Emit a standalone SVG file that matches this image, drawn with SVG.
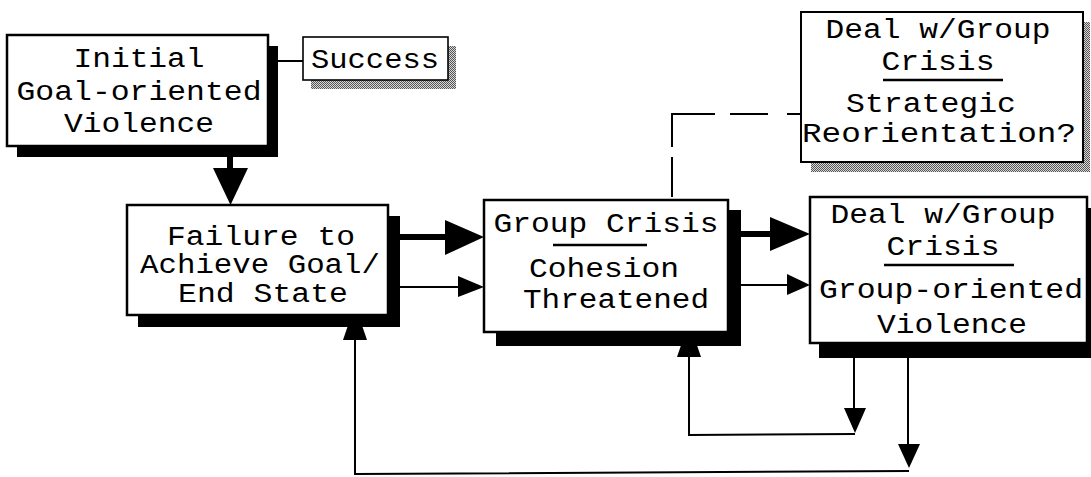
<svg xmlns="http://www.w3.org/2000/svg" width="1091" height="477" viewBox="0 0 1091 477">
<defs>
<pattern id="dots" width="2" height="2" patternUnits="userSpaceOnUse">
<rect width="2" height="2" fill="#d8d8d8"/>
<rect width="1" height="1" fill="#555"/>
<rect x="1" y="1" width="1" height="1" fill="#555"/>
</pattern>
</defs>
<style>
.box{fill:#fff;stroke:#000;stroke-width:2.5}
.sbox{fill:#fff;stroke:#000;stroke-width:1.6}
.sh{fill:#000}
.gsh{fill:url(#dots)}
.t{font-family:"Liberation Mono","Courier New",monospace;font-size:27px;fill:#000;text-anchor:middle}
.ul{stroke:#000;stroke-width:2.5}
.ln{stroke:#000;stroke-width:2;fill:none}
.thick{stroke:#000;stroke-width:6;fill:none}
.ah{fill:#000}
.dash{stroke:#000;stroke-width:2;fill:none;stroke-dasharray:13 19 38 15 76 10 40}
</style>
<rect width="1091" height="477" fill="#fff"/>
<g id="connectors">
<line class="ln" x1="270" y1="61" x2="303" y2="61"/>
<line class="thick" x1="230" y1="150" x2="230" y2="172"/>
<polygon class="ah" points="213,168 248,168 230.5,205"/>
<line class="thick" x1="395" y1="237" x2="448" y2="237"/>
<polygon class="ah" points="445,220 445,255 484,237"/>
<line class="ln" x1="395" y1="287" x2="460" y2="287"/>
<polygon class="ah" points="458,276 458,297 484,287"/>
<line class="thick" x1="735" y1="234" x2="772" y2="234"/>
<polygon class="ah" points="770,217 770,251 810,234"/>
<line class="ln" x1="735" y1="285" x2="789" y2="285"/>
<polygon class="ah" points="787,274 787,295 810,285"/>
<polyline class="ln" points="854,350 854,410"/>
<polygon class="ah" points="844,408 866,408 855,433"/>
<polyline class="ln" points="855,434 689,435 689,350"/>
<polygon class="ah" points="677,357 701,357 689,322"/>
<polyline class="ln" points="908,350 908,446"/>
<polygon class="ah" points="898,444 920,444 909,468"/>
<polyline class="ln" points="909,471 355,474 355,335"/>
<polygon class="ah" points="343,340 367,340 355,305"/>
<path class="dash" d="M800,114 H672 V199"/>
</g>
<g id="n1">
<rect class="sh" x="17" y="46" width="261" height="111"/>
<rect class="box" x="7" y="35" width="261" height="111"/>
<text class="t" x="139" y="67" textLength="131" lengthAdjust="spacingAndGlyphs">Initial</text>
<text class="t" x="139" y="100" textLength="245" lengthAdjust="spacingAndGlyphs">Goal-oriented</text>
<text class="t" x="139" y="132" textLength="150" lengthAdjust="spacingAndGlyphs">Violence</text>
</g>
<g id="success">
<rect class="gsh" x="311" y="46" width="145" height="43"/>
<rect class="sbox" x="303" y="37" width="145" height="43"/>
<text class="t" x="375" y="68" textLength="128" lengthAdjust="spacingAndGlyphs">Success</text>
</g>
<g id="n2">
<rect class="sh" x="138" y="216" width="262" height="111"/>
<rect class="box" x="127" y="205" width="261" height="110"/>
<text class="t" x="261" y="245" textLength="188" lengthAdjust="spacingAndGlyphs">Failure to</text>
<text class="t" x="260" y="273" textLength="240" lengthAdjust="spacingAndGlyphs">Achieve Goal/</text>
<text class="t" x="263" y="302" textLength="170" lengthAdjust="spacingAndGlyphs">End State</text>
</g>
<g id="n3">
<rect class="sh" x="496" y="210" width="245" height="136"/>
<rect class="box" x="484" y="200" width="244" height="132"/>
<text class="t" x="606" y="232" textLength="225" lengthAdjust="spacingAndGlyphs">Group Crisis</text>
<line class="ul" x1="553" y1="245" x2="647" y2="245"/>
<text class="t" x="604" y="277" textLength="150" lengthAdjust="spacingAndGlyphs">Cohesion</text>
<text class="t" x="616" y="308" textLength="186" lengthAdjust="spacingAndGlyphs">Threatened</text>
</g>
<g id="n4">
<rect class="sh" x="819" y="208" width="280" height="150"/>
<rect class="box" x="810" y="197" width="277" height="146"/>
<text class="t" x="943" y="223" textLength="225" lengthAdjust="spacingAndGlyphs">Deal w/Group</text>
<text class="t" x="943" y="255" textLength="113" lengthAdjust="spacingAndGlyphs">Crisis</text>
<line class="ul" x1="884" y1="265" x2="1014" y2="265"/>
<text class="t" x="951" y="298" textLength="264" lengthAdjust="spacingAndGlyphs">Group-oriented</text>
<text class="t" x="952" y="333" textLength="150" lengthAdjust="spacingAndGlyphs">Violence</text>
</g>
<g id="n5">
<rect class="gsh" x="811" y="22" width="279" height="150"/>
<rect class="box" x="801" y="12" width="282" height="150" style="stroke-width:2"/>
<text class="t" x="938" y="38" textLength="225" lengthAdjust="spacingAndGlyphs">Deal w/Group</text>
<text class="t" x="938" y="70" textLength="113" lengthAdjust="spacingAndGlyphs">Crisis</text>
<line class="ul" x1="883" y1="80" x2="1003" y2="80"/>
<text class="t" x="931" y="112" textLength="170" lengthAdjust="spacingAndGlyphs">Strategic</text>
<text class="t" x="939" y="142" textLength="274" lengthAdjust="spacingAndGlyphs">Reorientation?</text>
</g>
</svg>
